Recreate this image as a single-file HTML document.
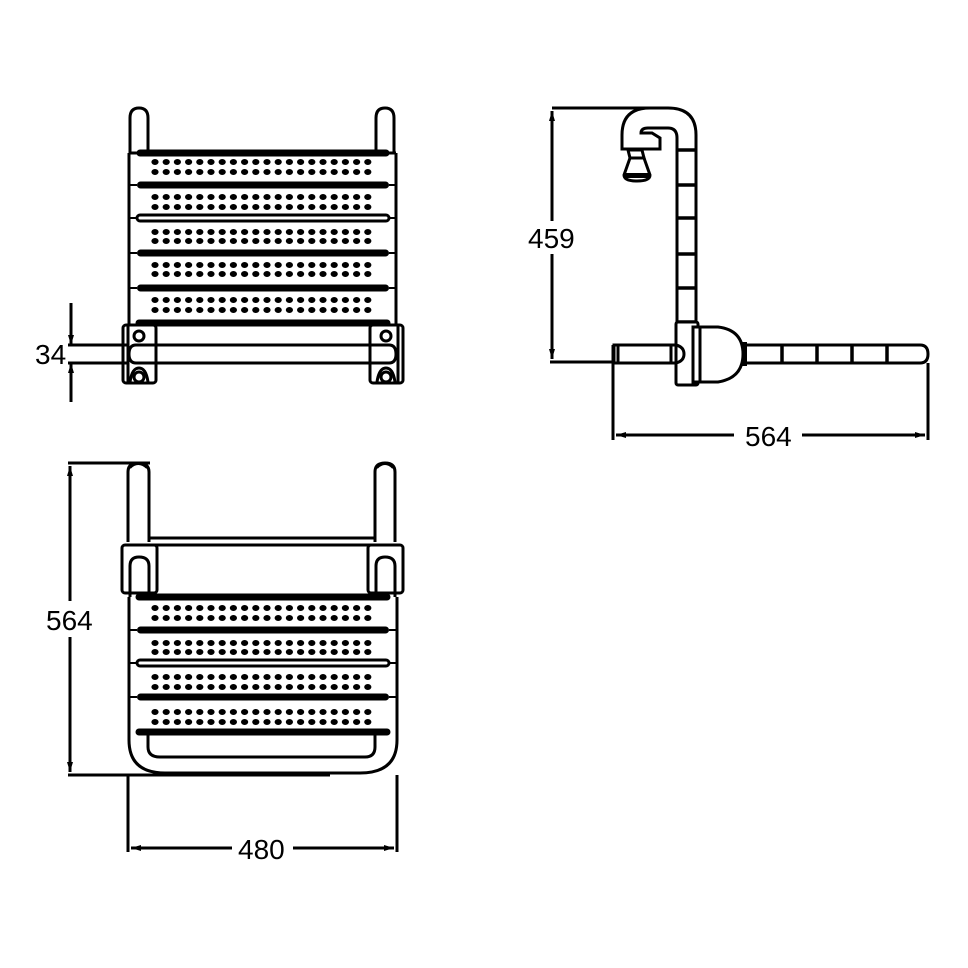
<!DOCTYPE html>
<html><head><meta charset="utf-8"><style>
html,body{margin:0;padding:0;background:#fff;}
svg{display:block}
text{font-family:"Liberation Sans",sans-serif;font-size:28px;fill:#000}
</style></head><body>
<svg id="s" width="968" height="968" viewBox="0 0 968 968" xmlns="http://www.w3.org/2000/svg" fill="none" stroke="#000" stroke-width="3">
<defs>
<marker id="a" markerWidth="10" markerHeight="8" refX="10" refY="4" orient="auto-start-reverse" markerUnits="userSpaceOnUse"><path d="M0,1 L10,4 L0,7z" fill="#000" stroke="none"/></marker>
</defs>
<g id="top">
 <path d="M130,153 V118 Q130,108 139,108 Q148,108 148,118 V153"/>
 <path d="M376,153 V118 Q376,108 385,108 Q394,108 394,118 V153"/>
 <path d="M129,153 H396 M129,153 V325 M396,153 V325"/>
 <rect x="138" y="151" width="250" height="4" rx="2" fill="#000"/>
 <rect x="123" y="325" width="33" height="58" rx="3"/>
 <rect x="370" y="325" width="33" height="58" rx="3"/>
 <line x1="128" y1="325" x2="128" y2="383"/><line x1="398" y1="325" x2="398" y2="383"/>
 <circle cx="139" cy="336" r="5"/><circle cx="386" cy="336" r="5"/>
 <path d="M130,382 Q132,368 139,368 Q146,368 148,382"/><circle cx="139" cy="377" r="5"/>
 <path d="M377,382 Q379,368 386,368 Q393,368 395,382"/><circle cx="386" cy="377" r="5"/>
 <rect x="137" y="321" width="252" height="4" rx="2" fill="#000"/>
 <path d="M136,345 H389 Q396,345 396,354 Q396,363 389,363 H136 Q129,363 129,354 Q129,345 136,345"/>
 <line x1="68" y1="345" x2="129" y2="345"/><line x1="68" y1="363" x2="129" y2="363"/>
 <line x1="71" y1="303" x2="71" y2="345" marker-end="url(#a)"/>
 <line x1="71" y1="402" x2="71" y2="363" marker-end="url(#a)"/>
</g>
<text x="35" y="364" stroke="none">34</text>

<g id="side">
 <path d="M696,322 V135 Q696,108 668,108 H650 Q622,108 622,135 V149 H660 V138 L652,133 H641 Q641,128 648,128 H668 Q677,128 677,138 V322"/>
 <path d="M677,150 H696 M677,185 H696 M677,218 H696 M677,254 H696 M677,288 H696 M677,322 H696" stroke-width="3.5"/>
 <path d="M628,150 H642 L644,158 L630,158z"/>
 <path d="M630,158 H644 L650,175 Q650,181 637,181 Q624,181 624,175z" fill="#fff"/>
 <rect x="625" y="173" width="24" height="5" fill="#000" stroke="none"/>
 <path d="M614,345 H676 Q684,345 684,354 Q684,363 676,363 H614z"/>
 <line x1="618" y1="345" x2="618" y2="363"/><line x1="671" y1="345" x2="671" y2="363"/>
 <rect x="676" y="322" width="22" height="63" fill="#fff" rx="2"/>
 <path d="M676,345 Q684,347 684,354 Q684,361 676,363"/>
 <rect x="693" y="327" width="7" height="55" fill="#fff"/>
 <path d="M700,327 H718 Q743,330 743,354 Q743,378 718,382 H700"/>
 <rect x="742" y="342" width="5" height="24" fill="#000" stroke="none"/>
 <path d="M745,345 H920 Q928,345 928,354 Q928,363 920,363 H745"/>
 <path d="M782,345 V363 M817,345 V363 M852,345 V363 M887,345 V363" stroke-width="3.5"/>
 <line x1="552" y1="108" x2="668" y2="108"/>
 <line x1="550" y1="362" x2="614" y2="362"/>
 <line x1="552" y1="221" x2="552" y2="111" marker-end="url(#a)"/>
 <line x1="552" y1="254" x2="552" y2="359" marker-end="url(#a)"/>
 <line x1="613" y1="345" x2="613" y2="440"/><line x1="928" y1="363" x2="928" y2="440"/>
 <line x1="734" y1="435" x2="616" y2="435" marker-end="url(#a)"/>
 <line x1="802" y1="435" x2="925" y2="435" marker-end="url(#a)"/>
</g>
<text x="528" y="248" stroke="none">459</text>
<text x="745" y="446" stroke="none">564</text>

<g id="bot">
 <path d="M128,542 V472 Q128,463 138,463 Q149,463 149,472 V542"/>
 <path d="M375,542 V472 Q375,463 385,463 Q395,463 395,472 V542"/>
 <path d="M130,468 Q138,460 147,468 M377,468 Q385,460 393,468" stroke-width="2"/>
 <path d="M149,538 H375 M149,545 H375"/>
 <rect x="122" y="545" width="35" height="48" rx="3"/>
 <rect x="368" y="545" width="35" height="48" rx="3"/>
 <path d="M130,597 V566 Q130,557 139,557 Q149,557 149,566 V597"/>
 <path d="M376,597 V566 Q376,557 385,557 Q395,557 395,566 V597"/>
 <path d="M129,597 V740 Q129,773 165,773 H360 Q397,773 397,740 V597"/>
 <path d="M148,733 V747 Q148,757 160,757 H365 Q375,757 375,747 V733"/>
 <rect x="137" y="595" width="252" height="4" rx="2" fill="#000"/>
 <rect x="137" y="730" width="252" height="4" rx="2" fill="#000"/>
 <line x1="68" y1="463" x2="150" y2="463"/><line x1="68" y1="775" x2="330" y2="775"/>
 <line x1="70" y1="601" x2="70" y2="466" marker-end="url(#a)"/>
 <line x1="70" y1="637" x2="70" y2="772" marker-end="url(#a)"/>
 <line x1="128" y1="775" x2="128" y2="852"/><line x1="397" y1="775" x2="397" y2="852"/>
 <line x1="232" y1="848" x2="131" y2="848" marker-end="url(#a)"/>
 <line x1="293" y1="848" x2="394" y2="848" marker-end="url(#a)"/>
</g>
<text x="46" y="630" stroke="none">564</text>
<text x="238" y="859" stroke="none">480</text>
<g id="dyn"></g>
</svg>
<script>
(function(){
 var g=document.getElementById('dyn'),h='';
 function rows(ys){ys.forEach(function(y){for(var i=0;i<20;i++){h+='<ellipse cx="'+(155+i*11.2).toFixed(1)+'" cy="'+y+'" rx="3.6" ry="3" fill="#000" stroke="none"/>';}});}
 function sep(y,thick){
  if(thick) h+='<rect x="137" y="'+(y-3.5)+'" width="252" height="7" rx="3.5" fill="#000" stroke="none"/>';
  else h+='<rect x="137" y="'+(y-3)+'" width="252" height="6" rx="3" fill="#fff" stroke="#000" stroke-width="3"/>';
  h+='<line x1="129" y1="'+y+'" x2="137" y2="'+y+'" stroke="#000" stroke-width="2"/><line x1="389" y1="'+y+'" x2="396" y2="'+y+'" stroke="#000" stroke-width="2"/>';
 }
 rows([162,172,197,207,232,241,265,274,300,310]);
 sep(185,true);sep(218,false);sep(253,true);sep(288,true);
 rows([608,618,643,652,677,687,712,722]);
 sep(630,true);sep(663,false);sep(697,true);
 g.innerHTML=h;
})();
</script>
</body></html>
